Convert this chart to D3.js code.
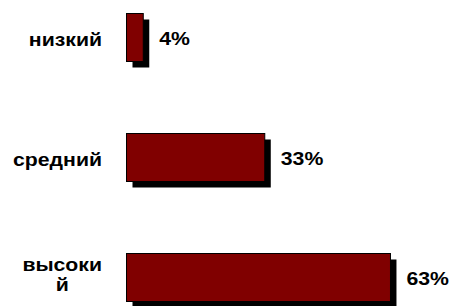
<!DOCTYPE html>
<html>
<head>
<meta charset="utf-8">
<script src="https://cdn.jsdelivr.net/npm/d3@7"></script>
<style>
  body { margin: 0; background: #fff; }
  text { font-family: Arial, "Liberation Sans", sans-serif; font-weight: bold; fill: #000; }
</style>
</head>
<body>
<div id="chart"></div>
<script>
// categories, top to bottom (the last one is wrapped like in the original)
var categories = ["низкий", "средний", "высокий"];
var categoryLines = [["низкий"], ["средний"], ["высоки", "й"]];
var values = [4, 33, 63];
var valueLabels = ["4%", "33%", "63%"];

var width = 457, height = 306;
var barLeft = 126.5;
var barHeight = 48;
var shadow = 6;
var fontSize = "18px";
var stretch = 1.18;   // text in the original is drawn wide

var svg = d3.select("#chart").append("svg")
    .attr("width", width)
    .attr("height", height);

//scales
var xa = d3.scaleLinear()
    .domain([0, 100])
    .range([0, 419]);

var ya = d3.scalePoint()
    .domain(categories)
    .range([37.5, 277.5]);

var rows = svg.selectAll(".row")
    .data(categories).enter().append("g")
    .attr("class", "row")
    .attr("transform", function(d) { return "translate(0," + ya(d) + ")"; });

// shadow first, then the bar over it
rows.append("rect")
    .attr("x", barLeft + shadow)
    .attr("y", -barHeight / 2 + shadow)
    .attr("width", function(d, i) { return xa(values[i]); })
    .attr("height", barHeight)
    .attr("fill", "#000");

rows.append("rect")
    .attr("x", barLeft)
    .attr("y", -barHeight / 2)
    .attr("width", function(d, i) { return xa(values[i]); })
    .attr("height", barHeight)
    .attr("fill", "#800000")
    .attr("stroke", "#000")
    .attr("stroke-width", 1);

//value labels
rows.append("g")
    .attr("transform", function(d, i) {
        return "translate(" + (barLeft + xa(values[i]) + 16) + ",7.5) scale(" + stretch + ",1)";
    })
    .append("text")
    .style("font-size", fontSize)
    .text(function(d, i) { return valueLabels[i]; });

//category labels, first line right aligned, next lines centered under it
rows.each(function(d, i) {
    var lines = categoryLines[i];
    var lineGap = 20;
    var top = 8.5 - (lines.length - 1) * 15;
    var g = d3.select(this);
    var first = g.append("g")
        .attr("transform", "translate(102," + top + ") scale(" + stretch + ",1)")
        .append("text")
        .style("font-size", fontSize)
        .style("text-anchor", "end")
        .text(lines[0]);
    var w = first.node().getComputedTextLength() * stretch;
    var cx = 102 - w / 2;
    for (var k = 1; k < lines.length; k++) {
        g.append("g")
            .attr("transform", "translate(" + cx + "," + (top + k * lineGap) + ") scale(" + stretch + ",1)")
            .append("text")
            .style("font-size", fontSize)
            .style("text-anchor", "middle")
            .text(lines[k]);
    }
});
</script>
</body>
</html>
